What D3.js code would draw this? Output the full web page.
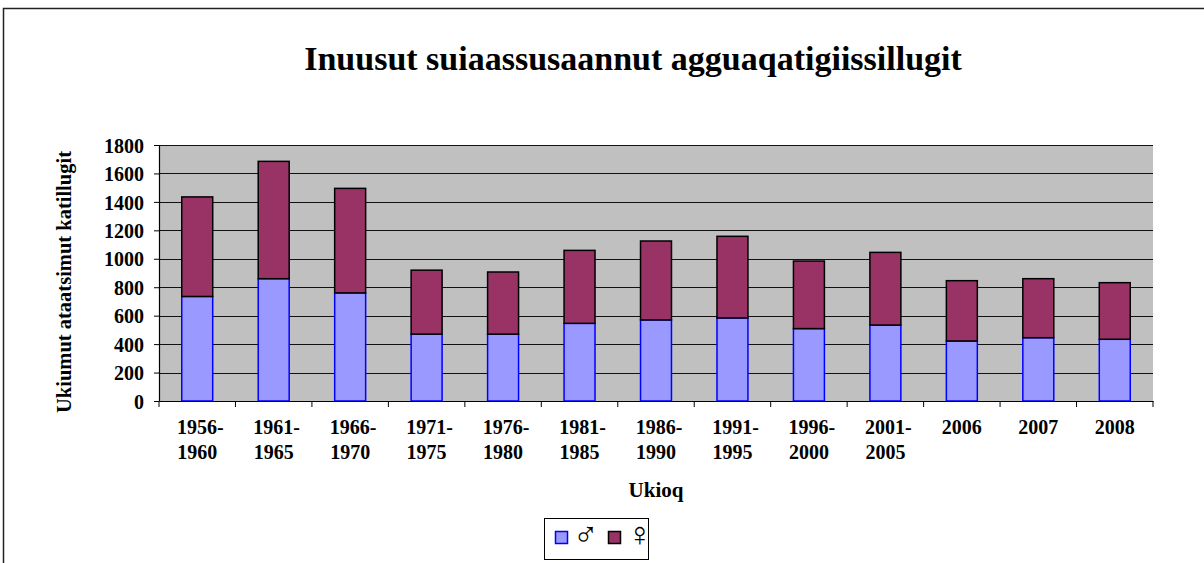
<!DOCTYPE html>
<html>
<head>
<meta charset="utf-8">
<script src="https://cdn.jsdelivr.net/npm/d3@7"></script>
<style>
  body { margin: 0; background: #fff; }
  svg text { font-family: "Liberation Serif", "Times New Roman", serif; font-weight: bold; fill: #000; }
</style>
</head>
<body>
<svg id="chart" width="1204" height="563"></svg>
<script>
// data
var periods = ['1956-1960', '1961-1965', '1966-1970', '1971-1975', '1976-1980', '1981-1985',
	'1986-1990', '1991-1995', '1996-2000', '2001-2005', '2006', '2007', '2008'];
var male = [735, 860, 760, 470, 470, 546, 570, 584, 509, 534, 422, 445, 434];
var female = [700, 825, 735, 450, 437, 513, 555, 574, 475, 511, 424, 415, 398];
var yTicks = [0, 200, 400, 600, 800, 1000, 1200, 1400, 1600, 1800];

var svg = d3.select('#chart');
var plot = {left: 159, right: 1153, top: 145, bottom: 401};

// outer chart border (right/bottom fall outside the window)
svg.append('rect')
	.attr('x', 3.5).attr('y', 8.5)
	.attr('width', 1220).attr('height', 600)
	.attr('fill', 'none').attr('stroke', '#222').attr('stroke-width', 1.5);

svg.append('text')
	.attr('x', 633).attr('y', 70)
	.attr('text-anchor', 'middle')
	.style('font-size', '34px')
	.text('Inuusut suiaassusaannut agguaqatigiissillugit');

var x = d3.scaleBand()
	.domain(periods)
	.range([plot.left, plot.right])
	.paddingInner(0.595)
	.paddingOuter(0.2975);

var y = d3.scaleLinear()
	.domain([0, 1800])
	.range([plot.bottom, plot.top]);

svg.append('rect')
	.attr('x', plot.left).attr('y', plot.top)
	.attr('width', plot.right - plot.left).attr('height', plot.bottom - plot.top)
	.attr('fill', '#c0c0c0');

// gridlines
svg.append('g').selectAll('line')
	.data(yTicks.filter(function(d) { return d > 0; }))
	.enter().append('line')
	.attr('x1', plot.left).attr('x2', plot.right)
	.attr('y1', function(d) { return Math.round(y(d)) + 0.5; })
	.attr('y2', function(d) { return Math.round(y(d)) + 0.5; })
	.attr('stroke', '#111').attr('stroke-width', 1);

// stacked bars
var rows = periods.map(function(p, i) { return {period: p, male: male[i], female: female[i]}; });
var stack = d3.stack().keys(['male', 'female'])(rows);
var fills = {male: '#9999ff', female: '#993366'};
var strokes = {male: '#0000ff', female: '#000'};

stack.forEach(function(layer) {
	svg.append('g').selectAll('rect')
		.data(layer)
		.enter().append('rect')
		.attr('x', function(d) { return x(d.data.period); })
		.attr('width', x.bandwidth())
		.attr('y', function(d) { return y(d[1]); })
		.attr('height', function(d) { return y(d[0]) - y(d[1]); })
		.attr('fill', fills[layer.key])
		.attr('stroke', strokes[layer.key])
		.attr('stroke-width', 1.5);
});

// y axis
var yAxis = svg.append('g')
	.attr('transform', 'translate(' + plot.left + ',0)')
	.call(d3.axisLeft(y).tickValues(yTicks).tickFormat(d3.format('d'))
		.tickSize(5).tickSizeOuter(0).tickPadding(10));
yAxis.selectAll('text').style('font-size', '20px').attr('dy', '0.36em');

// x axis, ticks sit between categories
var xAxis = svg.append('g')
	.attr('transform', 'translate(0,' + plot.bottom + ')')
	.call(d3.axisBottom(x).tickSize(0).tickSizeOuter(0).tickFormat(''));
xAxis.selectAll('.tick').remove();
var step = x.step();
xAxis.selectAll('line.sep')
	.data(d3.range(periods.length + 1))
	.enter().append('line')
	.attr('class', 'sep')
	.attr('x1', function(i) { return plot.left + i * step; })
	.attr('x2', function(i) { return plot.left + i * step; })
	.attr('y1', 0).attr('y2', 6)
	.attr('stroke', '#000');
svg.selectAll('.domain').attr('stroke', '#000').attr('stroke-width', 1.2);

var labels = svg.append('g').selectAll('text')
	.data(periods)
	.enter().append('text')
	.attr('text-anchor', 'middle')
	.attr('x', function(d) { return x(d) + x.bandwidth() / 2; })
	.attr('y', 434)
	.style('font-size', '20px');
labels.each(function(d) {
	var parts = d.split('-');
	var t = d3.select(this);
	if (parts.length > 1) {
		t.append('tspan').attr('x', t.attr('x')).attr('dx', '0.15em').text(parts[0] + '-');
		t.append('tspan').attr('x', t.attr('x')).attr('dy', 25).text(parts[1]);
	} else {
		t.text(d);
	}
});

svg.append('text')
	.attr('x', 656).attr('y', 497)
	.attr('text-anchor', 'middle')
	.style('font-size', '21px')
	.text('Ukioq');

svg.append('text')
	.attr('transform', 'translate(71,282) rotate(-90)')
	.attr('text-anchor', 'middle')
	.style('font-size', '20.5px')
	.text('Ukiumut ataatsimut katillugit');

// legend
var legend = svg.append('g');
legend.append('rect')
	.attr('x', 544.5).attr('y', 518.5).attr('width', 104).attr('height', 41)
	.attr('fill', '#fff').attr('stroke', '#000');
var legendItems = [
	{key: 'male', label: '\u2642', x: 555, dx: 18},
	{key: 'female', label: '\u2640', x: 608, dx: 19}
];
legendItems.forEach(function(it) {
	legend.append('rect')
		.attr('x', it.x + 0.5).attr('y', 531.5).attr('width', 12).attr('height', 12)
		.attr('fill', fills[it.key]).attr('stroke', strokes[it.key]).attr('stroke-width', 1.5);
	legend.append('text')
		.attr('x', it.x + it.dx).attr('y', 546)
		.style('font-family', '"Liberation Serif", serif')
		.style('font-weight', 'normal')
		.style('font-size', '34px')
		.text(it.label);
});
</script>
</body>
</html>
